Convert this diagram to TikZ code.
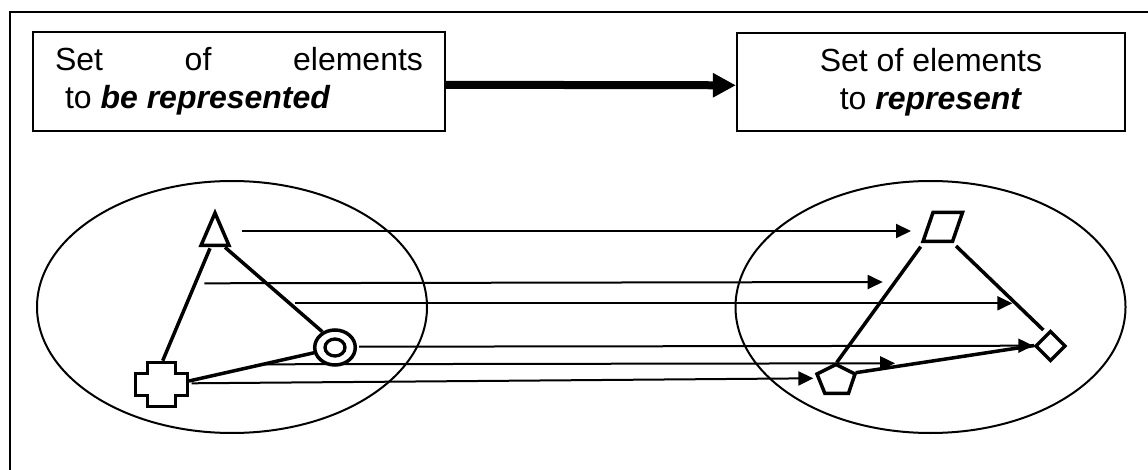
\documentclass[tikz,border=0pt]{standalone}
\usepackage{fontspec}
\setmainfont{Liberation Sans}
\usetikzlibrary{arrows.meta}
\begin{document}
\begin{tikzpicture}[x=1pt,y=-1pt,
  textbox/.style={draw,line width=2.2pt,inner sep=0pt,font=\fontsize{32}{38}\selectfont},
  outlineshape/.style={draw,line width=3.5pt,line join=miter},
  linkline/.style={line width=3.5pt},
  maparrow/.style={line width=2pt,-{Triangle[length=15pt,width=14pt]}},
  bigarrow/.style={line width=8pt,-{Triangle[length=23pt,width=23pt]}},
  setline/.style={line width=2pt}]
\useasboundingbox (0,0) rectangle (1148,470);
% frame
\draw[line width=2pt] (10,470) -- (10,12) -- (1148,12);
% top boxes
\node[textbox,minimum width=412pt,minimum height=98.7pt,align=left] (src) at (239,81.3)
  {\makebox[368pt][s]{Set of elements}\\\hspace*{10pt}to \textbf{\textit{be represented}}};
\node[textbox,minimum width=388pt,minimum height=97.7pt,align=center] (dst) at (931,81.8)
  {Set of elements\\to \textbf{\textit{represent}}};
\draw[bigarrow] ([yshift=-3.5pt]src.east) -- ([yshift=-3.5pt]dst.west);
% sets
\draw[setline] (232,307) ellipse [x radius=195, y radius=126];
\draw[setline] (930.5,307) ellipse [x radius=195, y radius=126];
% left shapes
\coordinate (triA) at (215,213);
\coordinate (triL) at (201,245.5);
\coordinate (triR) at (229,245.5);
\draw[outlineshape] (triA) -- (triL) -- (triR) -- cycle;
\draw[outlineshape] (147.5,362.5) -- (175.5,362.5) -- (175.5,373.5) -- (187.5,373.5) -- (187.5,395.5)
  -- (175.5,395.5) -- (175.5,406.5) -- (147.5,406.5) -- (147.5,395.5) -- (135.5,395.5)
  -- (135.5,373.5) -- (147.5,373.5) -- cycle;
\coordinate (circ) at (335,347.5);
\draw[outlineshape] (circ) ellipse [x radius=20.3, y radius=17.5];
\draw[line width=3.3pt] (circ) ellipse [x radius=10, y radius=8.5];
% right shapes
\draw[outlineshape] (933,212.5) -- (962.5,212.5) -- (952.5,241.5) -- (923,241.5) -- cycle;
\draw[outlineshape] (1050.5,331.5) -- (1065,346) -- (1050.5,360.5) -- (1036,346) -- cycle;
\draw[outlineshape] (836,364.5) -- (855,374) -- (848.5,393.3) -- (824.8,393.3) -- (817,374) -- cycle;
% left edges
\coordinate (e1a) at (210,248.3);  \coordinate (e1b) at (162.7,360.7);
\coordinate (e2a) at (225,247.3);  \coordinate (e2b) at (322.3,331.7);
\coordinate (e3a) at (189,381);    \coordinate (e3b) at (314.3,352.7);
\draw[linkline] (e1a) -- (e1b);
\draw[linkline] (e2a) -- (e2b);
\draw[linkline] (e3a) -- (e3b);
% right edges
\coordinate (f1a) at (920.7,246.7); \coordinate (f1b) at (836.7,362.5);
\coordinate (f2a) at (956,246);     \coordinate (f2b) at (1043.3,330);
\coordinate (f3a) at (855.7,372.7); \coordinate (f3b) at (1034.3,345.5);
\draw[linkline] (f1a) -- (f1b);
\draw[linkline] (f2a) -- (f2b);
\draw[linkline] (f3a) -- (f3b);
% mapping arrows
\coordinate (m1a) at (241.7,231);   \coordinate (m1b) at (911,231);
\coordinate (m2a) at (204.3,283.3); \coordinate (m2b) at (882.7,282);
\coordinate (m3a) at (295,303.3);   \coordinate (m3b) at (1012.3,303.3);
\coordinate (m4a) at (359,346.7);   \coordinate (m4b) at (1033.3,345.7);
\coordinate (m5a) at (263,364.3);   \coordinate (m5b) at (895,363.3);
\coordinate (m6a) at (191.7,383.3); \coordinate (m6b) at (813.3,378.3);
\foreach \i in {1,...,6} {\draw[maparrow] (m\i a) -- (m\i b);}
\end{tikzpicture}
\end{document}
